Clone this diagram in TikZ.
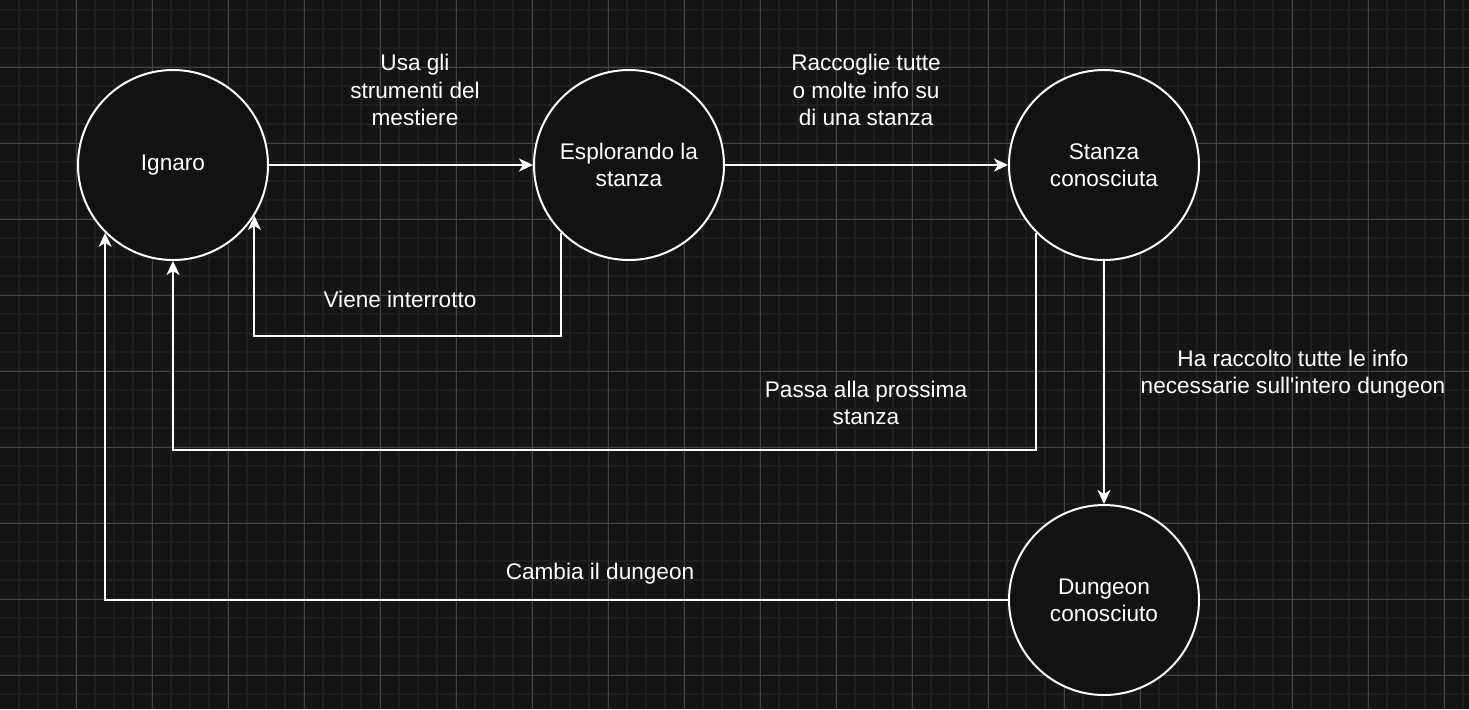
\documentclass[tikz,border=0pt]{standalone}
\usepackage{fontspec}
\setmainfont{Liberation Sans}
\usetikzlibrary{arrows.meta}

\definecolor{bgcol}{HTML}{141414}
\definecolor{minorcol}{HTML}{1F1F1F}
\definecolor{majorcol}{HTML}{454545}
\definecolor{statecol}{HTML}{121212}

\tikzset{
  state/.style={circle, draw=white, fill=statecol, line width=1pt, inner sep=0pt,
    minimum size=95pt, text=white, align=center},
  lbl/.style={text=white, align=center},
  flow/.style={draw=white, line width=1pt, -{Stealth[length=7pt, width=6.5pt, inset=2pt]}}
}

\begin{document}
\begin{tikzpicture}[x=0.5pt, y=-0.5pt, font=\fontsize{11.3}{13.6}\selectfont]
    \useasboundingbox (0,0) rectangle (1469,709);
    \fill[bgcol] (0,0) rectangle (1469,709);

    % Grid
    \foreach \x in {19,38,...,1469}
        \draw[minorcol, line width=1pt] (\x,0) -- (\x,709);
    \foreach \y in {10,29,...,709}
        \draw[minorcol, line width=1pt] (0,\y) -- (1469,\y);
    \foreach \x in {76,152,...,1469}
        \draw[majorcol, line width=0.5pt] (\x,0) -- (\x,709);
    \foreach \y in {67,143,...,709}
        \draw[majorcol, line width=0.5pt] (0,\y) -- (1469,\y);

    % States
    \node[state] (ign) at (173,165) {\raisebox{-1.5pt}{Ignaro}};
    \node[state] (esp) at (629,165) {Esplorando la\\stanza};
    \node[state] (sta) at (1104,165) {Stanza\\conosciuta};
    \node[state] (dun) at (1104,600) {Dungeon\\conosciuto};

    % Transitions
    \draw[flow] (ign) -- (esp);
    \draw[flow] (esp) -- (sta);
    \draw[flow] (esp.-135) -- ++(0,103) -| (ign.-32.5);
    \draw[flow] (sta.-135) -- ++(0,217) -| (ign.south);
    \draw[flow] (sta) -- (dun);
    \draw[flow] (dun.west) -| (ign.-135);

    % Labels
    \node[lbl] (usa) at (415,90) {Usa gli\\strumenti del\\mestiere};
    \node[lbl] (rac) at (866,90) {Raccoglie tutte\\o molte info su\\di una stanza};
    \node[lbl] (vie) at (400,299) {Viene interrotto};
    \node[lbl] (pas) at (866,403) {Passa alla prossima\\stanza};
    \node[lbl] (har) at (1293,374) {Ha raccolto tutte le info\\necessarie sull\textquotesingle intero dungeon};
    \node[lbl] (cam) at (600,574) {Cambia il dungeon};

\end{tikzpicture}
\end{document}
